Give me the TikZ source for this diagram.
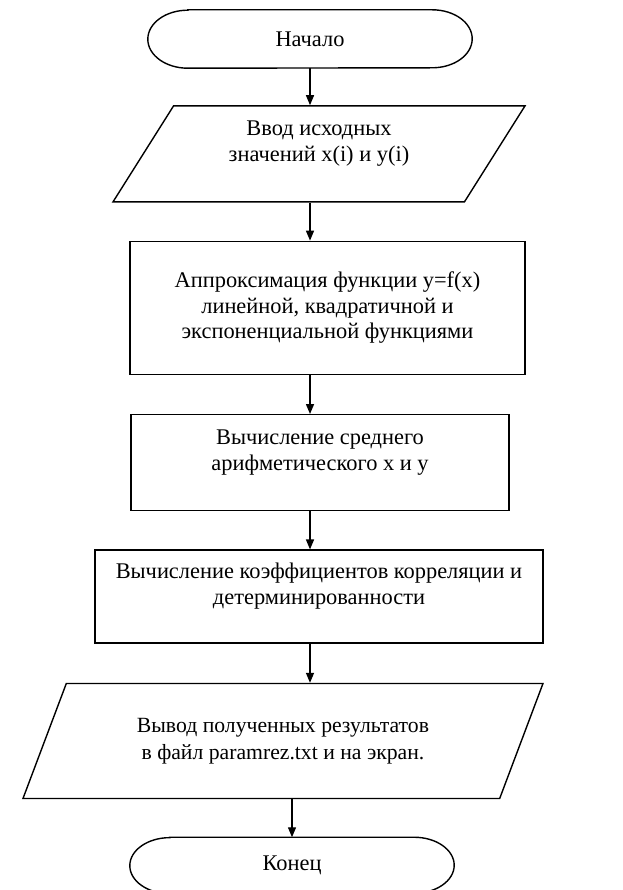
\documentclass[tikz,border=0pt]{standalone}
\usepackage{fontspec}
\setmainfont{Liberation Serif}
\usetikzlibrary{arrows.meta,positioning,shapes.geometric,calc}
\tikzset{
  block/.style={rectangle,draw,line width=1.4pt,align=center,inner sep=2pt,font=\fontsize{22.4}{25.5}\selectfont},
  io/.style={trapezium,trapezium left angle=49,trapezium right angle=131,trapezium stretches body,
    draw,line width=1.4pt,align=center,inner sep=2pt,font=\fontsize{22.4}{25.5}\selectfont},
  terminal/.style={rectangle,align=center,minimum width=324pt,minimum height=58pt,font=\fontsize{22.4}{25.5}\selectfont},
  oval/.style={line width=1.4pt},
  flow/.style={-{Triangle[length=10pt,width=8pt]},line width=1.4pt}
}

\begin{document}
\begin{tikzpicture}
  \useasboundingbox (0,0) rectangle (622pt,-890pt);
  \node[terminal] (start) at (310pt,-39pt) {Начало};
  \draw[oval] ([xshift=40pt]start.north west) -- ([xshift=-40pt]start.north east)
      arc[start angle=90,end angle=-90,x radius=40pt,y radius=29pt]
      -- ([xshift=40pt]start.south west)
      arc[start angle=270,end angle=90,x radius=40pt,y radius=29pt] -- cycle;
  \node[io, minimum width=412pt, minimum height=96pt, below=37pt of start, xshift=9pt] (input)
      {Ввод исходных\\значений x(i) и y(i)\\ \mbox{}};
  \node[block, minimum width=395pt, minimum height=133pt, below=38pt of input, xshift=8.5pt] (approx)
      {Аппроксимация функции y=f(x)\\линейной, квадратичной и\\экспоненциальной функциями};
  \node[block, minimum width=378pt, minimum height=96pt, below=39pt of approx, xshift=-7.5pt] (mean)
      {Вычисление среднего\\арифметического x и y\\ \mbox{}};
  \node[block, minimum width=448pt, minimum height=93pt, below=38pt of mean, xshift=-1pt] (corr)
      {Вычисление коэффициентов корреляции и\\детерминированности\\ \mbox{}};
  \node[io, minimum width=520pt, minimum height=115pt, below=39pt of corr, xshift=-36pt,
      font=\fontsize{21.7}{27}\selectfont] (output)
      {Вывод полученных результатов\\в файл paramrez.txt и на экран.};
  \node[terminal, minimum height=56pt, below=38pt of output, xshift=9pt] (stop) {Конец};
  \draw[oval] ([xshift=40pt]stop.north west) -- ([xshift=-40pt]stop.north east)
      arc[start angle=90,end angle=-90,x radius=40pt,y radius=28pt]
      -- ([xshift=40pt]stop.south west)
      arc[start angle=270,end angle=90,x radius=40pt,y radius=28pt] -- cycle;
  % connectors
  \draw[flow] (start.south) -- (start.south |- input.north);
  \draw[flow] (start |- input.south) -- (start |- approx.north);
  \draw[flow] (start |- approx.south) -- (start |- mean.north);
  \draw[flow] (start |- mean.south) -- (start |- corr.north);
  \draw[flow] (start |- corr.south) -- (start |- output.north);
  \draw[flow] (stop |- output.south) -- (stop.north);
\end{tikzpicture}
\end{document}
